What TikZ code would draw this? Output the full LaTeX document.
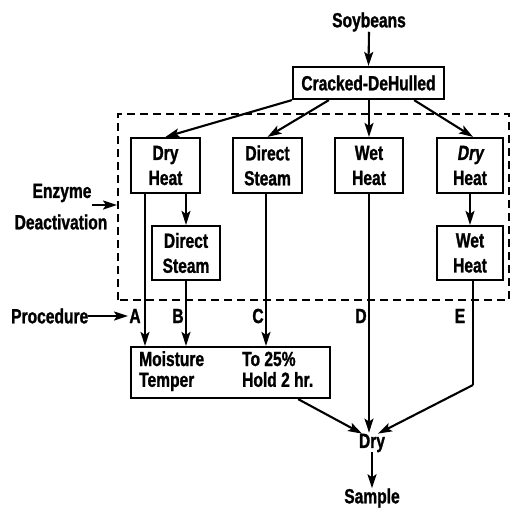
\documentclass[tikz,border=0pt]{standalone}
\usepackage{fontspec}
\setmainfont{Liberation Sans}[FakeStretch=0.76]
\newfontfamily\heavyfont{Liberation Sans Bold}[FakeStretch=0.76,FakeBold=1.2]
\newfontfamily\heavyslant{Liberation Sans Bold}[FakeStretch=0.76,FakeBold=1.2,FakeSlant=0.15]
\usetikzlibrary{arrows.meta,calc}
\begin{document}
\begin{tikzpicture}[x=1pt,y=-1pt,
  every node/.style={font=\fontsize{20.5}{25}\heavyfont},
  box/.style={draw,line width=2.2pt,align=center,inner sep=0pt},
  lbl/.style={inner sep=0pt},
  arr/.style={line width=2.1pt,-{Stealth[length=14pt,width=9pt,inset=3pt]}},
  ln/.style={line width=2.1pt},
  dashbox/.style={line width=1.8pt,dash pattern=on 8pt off 5pt}]
\useasboundingbox (0,0) rectangle (511,509);
% nodes
\node[lbl] (soy) at (369,22) {Soybeans};
\node[box,minimum width=151pt,minimum height=32pt] (crack) at (368.5,83) {Cracked-DeHulled};
\node[box,minimum width=69pt,minimum height=55pt] (dh1) at (165.5,165.5) {Dry\\Heat};
\node[box,minimum width=69pt,minimum height=55pt] (ds1) at (267.5,165.5) {Direct\\Steam};
\node[box,minimum width=68pt,minimum height=55pt] (wh1) at (369,165.5) {Wet\\Heat};
\node[box,minimum width=66pt,minimum height=55pt] (dh2) at (470,165.5) {{\heavyslant Dry}\\Heat};
\node[box,minimum width=68pt,minimum height=54pt] (ds2) at (186,253) {Direct\\Steam};
\node[box,minimum width=66pt,minimum height=54pt] (wh2) at (470,253) {Wet\\Heat};
\node[box,minimum width=199pt,minimum height=51pt] (moist) at (230.5,372.5) {};
\node[lbl,anchor=west,font=\fontsize{20.5}{20}\heavyfont] (mtext) at (139,372)
  {\begin{tabular}{@{}p{103pt}@{}l@{}}Moisture & To 25\%\\ Temper & Hold 2 hr.\end{tabular}};
\node[lbl] (dry) at (372,443) {Dry};
\node[lbl] (sample) at (372,498) {Sample};
\node[lbl] (enz1) at (62,193) {Enzyme};
\node[lbl] (enz2) at (61,222) {Deactivation};
\node[lbl,anchor=west] (proc) at (11,316) {Procedure};
\node[lbl] (la) at (135,316) {A};
\node[lbl] (lb) at (178,316) {B};
\node[lbl] (lc) at (258,316) {C};
\node[lbl] (ld) at (361,316) {D};
\node[lbl] (le) at (460,316) {E};
% dashed enzyme deactivation region
\draw[dashbox] (118,300) -- (118,114) -- (509,114) -- (509,300) -- cycle;
% coordinates
\coordinate (xa) at (145,0);
\coordinate (xb) at (186,0);
\coordinate (xc) at (266,0);
\coordinate (xd) at (369,0);
\coordinate (xe) at (473,0);
\coordinate (ebend) at (473,385);
\coordinate (enzend) at (117,205);
\coordinate (procend) at (128,316);
% connectors
\draw[arr] (soy.south) -- (crack.north);
\draw[arr] (crack.south west) -- (dh1.north);
\draw[arr] ($(crack.south west)+(37,0)$) -- (ds1.north);
\draw[arr] (crack.south -| xd) -- (wh1.north);
\draw[arr] ($(crack.south east)+(-31,0)$) -- (dh2.north -| xe);
\draw[arr] (dh1.south -| xb) -- (ds2.north);
\draw[arr] (dh2.south -| 470,0) -- (wh2.north);
\draw[arr] (dh1.south -| xa) -- (moist.north -| xa);
\draw[arr] (ds2.south) -- (moist.north -| xb);
\draw[arr] (ds1.south -| xc) -- (moist.north -| xc);
\draw[arr] (wh1.south -| xd) -- ($(dry.north -| xd)+(0,-1)$);
\draw[ln] (wh2.south -| xe) -- (ebend);
\draw[arr] (ebend) -- ($(dry.north)+(6,0)$);
\draw[arr] ($(moist.south east)+(-33,0)$) -- ($(dry.north)+(-10,0)$);
\draw[arr] (dry.south) -- (sample.north);
\draw[arr] (enz1.east |- 0,205) -- (enzend);
\draw[arr] (proc.east) -- (procend);
\end{tikzpicture}
\end{document}
